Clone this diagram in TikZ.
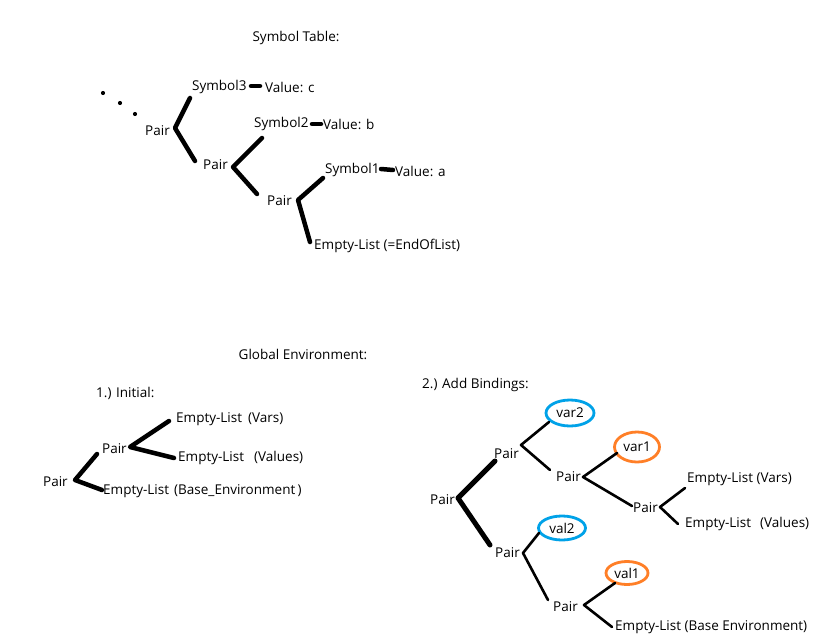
\documentclass[tikz,border=0pt]{standalone}
\usepackage{fontspec}
\setmainfont{Open Sans}
\usetikzlibrary{shapes.geometric}
\definecolor{paintblue}{HTML}{00A2E8}
\definecolor{paintorange}{HTML}{FF7F27}
\newcommand{\EL}[1]{\makebox[#1][l]{Empty-List}}
\begin{document}
\begin{tikzpicture}[x=1pt,y=-1pt,
  font=\fontsize{13.5}{16}\selectfont,
  lbl/.style={inner sep=0pt, anchor=west},
  thick5/.style={line width=4.5pt, line cap=round, line join=round},
  thin3/.style={line width=2.6pt, line cap=round, line join=round},
  dash5/.style={line width=4.5pt, line cap=round},
  ring/.style={ellipse, line width=2.8pt, inner sep=0pt},
  dot/.style={circle, fill=black, inner sep=0pt, minimum size=4.2pt}]
\useasboundingbox (0,0) rectangle (832,642);
\fill[white] (0,0) rectangle (832,642);

% ---------- Symbol table ----------
\node[lbl, anchor=center] (title1) at (296,38) {Symbol Table:};
\node[dot] (d1) at (103,93) {};
\node[dot] (d2) at (120,103) {};
\node[dot] (d3) at (135,114) {};

\node[lbl] (sym3) at (192,87) {Symbol3};
\node[lbl] (val3) at (265,87) {Value: c};
\node[lbl] (pairA) at (145,131) {Pair};
\node[lbl] (sym2) at (254,124) {Symbol2};
\node[lbl] (val2t) at (323,124) {Value: b};
\node[lbl] (pairB) at (203,165) {Pair};
\node[lbl] (sym1) at (325,170) {Symbol1};
\node[lbl] (val1t) at (395,171) {Value: a};
\node[lbl] (pairC) at (267,201) {Pair};
\node[lbl] (eol) at (314,246) {Empty-List (=EndOfList)};

\coordinate (jA) at (175,128);
\coordinate (jB) at (233,167);
\coordinate (jC) at (298,200);
\coordinate (s3e) at (190,98);
\coordinate (pBe) at (195,161);
\coordinate (s2e) at (262,138);
\coordinate (pCe) at (257,194);
\coordinate (s1e) at (323,178);
\coordinate (eole) at (310,242);
\draw[thick5] (s3e) -- (jA) -- (pBe);
\draw[thick5] (s2e) -- (jB) -- (pCe);
\draw[thick5] (s1e) -- (jC) -- (eole);
\coordinate (k3a) at (251,86); \coordinate (k3b) at (260,86);
\coordinate (k2a) at (312,124); \coordinate (k2b) at (321,124);
\coordinate (k1a) at (381,169); \coordinate (k1b) at (393,170);
\draw[dash5] (k3a) -- (k3b);
\draw[dash5] (k2a) -- (k2b);
\draw[dash5] (k1a) -- (k1b);

% ---------- Global environment ----------
\node[lbl, anchor=center] (title2) at (303,354) {Global Environment:};
\node[lbl] (init) at (96,393) {1.) Initial:};
\node[lbl] (ivars) at (176,419) {\EL{72pt}(Vars)};
\node[lbl] (ipair1) at (102,449) {Pair};
\node[lbl] (ivals) at (178,458) {\EL{76pt}(Values)};
\node[lbl] (ipair0) at (43,482) {Pair};
\node[lbl] (ibase) at (103,491) {\EL{71pt}(Base\_Environment\,)};

\coordinate (iva) at (169,421);
\coordinate (ij1) at (130,447);
\coordinate (ivb) at (174,458);
\coordinate (ip1e) at (97,454);
\coordinate (ij0) at (75,480);
\coordinate (ibe) at (102,490);
\draw[thick5] (iva) -- (ij1) -- (ivb);
\draw[thick5] (ip1e) -- (ij0) -- (ibe);

% ---------- Add bindings ----------
\node[lbl] (add) at (422,385) {2.) Add Bindings:};
\node[lbl] (bpair0) at (430,500) {Pair};
\node[lbl] (bpairU) at (494,454) {Pair};
\node[lbl] (bpairM) at (556,477) {Pair};
\node[lbl] (bpairR) at (633,508) {Pair};
\node[lbl] (bpairL) at (495,553) {Pair};
\node[lbl] (bpairB) at (553,607) {Pair};
\node[lbl] (bvars) at (687,479) {Empty-List (Vars)};
\node[lbl] (bvals) at (685,524) {\EL{75pt}(Values)};
\node[lbl] (bbase) at (615,627) {Empty-List (Base Environment)};

\node[ring, draw=paintblue, minimum width=48pt, minimum height=26pt] (var2) at (570,413) {var2};
\node[ring, draw=paintorange, minimum width=45pt, minimum height=30pt] (var1) at (637,447) {var1};
\node[ring, draw=paintblue, minimum width=47pt, minimum height=24pt] (val2) at (562,528) {val2};
\node[ring, draw=paintorange, minimum width=42pt, minimum height=23pt] (val1) at (627,573) {val1};

\coordinate (bpUe) at (495,461);
\coordinate (bj0) at (458,498);
\coordinate (bpLe) at (490,545);
\draw[line width=5pt, line cap=round, line join=round] (bpUe) -- (bj0) -- (bpLe);

\coordinate (bv2e) at (549,422);
\coordinate (bjU) at (521,445);
\coordinate (bpMe) at (550,470);
\draw[thin3] (bv2e) -- (bjU) -- (bpMe);

\coordinate (bv1e) at (617,453);
\coordinate (bjM) at (583,477);
\coordinate (bpRe) at (632,506);
\draw[thin3] (bv1e) -- (bjM) -- (bpRe);

\coordinate (bvae) at (685,488);
\coordinate (bjR) at (660,507);
\coordinate (bvbe) at (678,524);
\draw[thin3] (bvae) -- (bjR) -- (bvbe);

\coordinate (bl2e) at (539,533);
\coordinate (bjL) at (523,553);
\coordinate (bpBe) at (548,600);
\draw[thin3] (bl2e) -- (bjL) -- (bpBe);

\coordinate (bl1e) at (615,583);
\coordinate (bjB) at (584,605);
\coordinate (bbe) at (612,627);
\draw[thin3] (bl1e) -- (bjB) -- (bbe);
\end{tikzpicture}
\end{document}
